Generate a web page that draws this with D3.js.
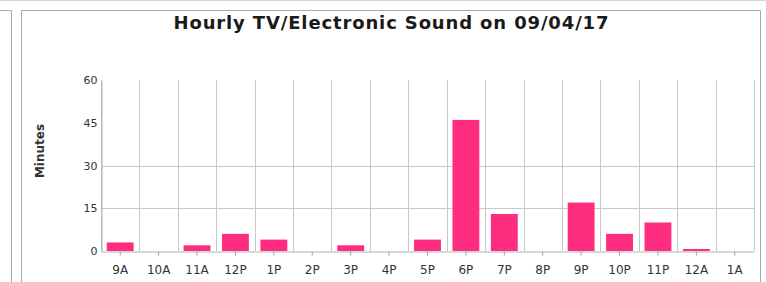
<!DOCTYPE html>
<html>
<head>
<meta charset="utf-8">
<script src="https://cdn.jsdelivr.net/npm/d3@7"></script>
<style>
  body { margin: 0; background: #fff; }
</style>
</head>
<body>
<svg id="chart" width="766" height="282"></svg>
<script>
const hours = ["9A", "10A", "11A", "12P", "1P", "2P", "3P", "4P", "5P", "6P", "7P", "8P", "9P", "10P", "11P", "12A", "1A"];
const minutes = [3, 0, 2, 6, 4, 0, 2, 0, 4, 46, 13, 0, 17, 6, 10, 0.7, 0];
const yTicks = [0, 15, 30, 45, 60];
const gridTicks = [15, 30];
const titleText = "Hourly TV/Electronic Sound on 09/04/17";
const yTitle = "Minutes";

const font = "DejaVu Sans";
const svg = d3.select("#chart");
const W = 766, H = 282;
const plotL = 101, plotR = 754, plotT = 80, plotB = 251;

// frames round the panels
svg.append("line").attr("x1", 0).attr("x2", W).attr("y1", 0.5).attr("y2", 0.5)
    .attr("stroke", "#d4d4d4");
svg.append("path").attr("d", `M0,10.5H11.5V${H}`)
    .attr("fill", "none").attr("stroke", "#a8a8a8");
svg.append("path").attr("d", `M21.5,${H}V10.5H760.5V${H}`)
    .attr("fill", "none").attr("stroke", "#a8a8a8");

const x = d3.scaleBand().domain(hours).range([plotL, plotR]).paddingInner(0.3).paddingOuter(0.15);
const xGrid = d3.scaleBand().domain(hours).range([plotL, plotR]);
const y = d3.scaleLinear().domain([0, 60]).range([plotB, plotT]);

// vertical gridlines at category edges
const g = svg.append("g");
g.selectAll("line.v")
    .data(hours.concat(["end"]))
    .join("line")
    .attr("x1", (d, i) => Math.round(plotL + i * xGrid.step()) + 0.5)
    .attr("x2", (d, i) => Math.round(plotL + i * xGrid.step()) + 0.5)
    .attr("y1", plotT).attr("y2", plotB)
    .attr("stroke", "#c8c8c8");

g.selectAll("line.h")
    .data(gridTicks)
    .join("line")
    .attr("x1", plotL).attr("x2", plotR)
    .attr("y1", d => Math.round(y(d)) + 0.5)
    .attr("y2", d => Math.round(y(d)) + 0.5)
    .attr("stroke", "#c8c8c8");

// bars
svg.append("g").selectAll("rect")
    .data(minutes)
    .join("rect")
    .attr("x", (d, i) => x(hours[i]))
    .attr("width", x.bandwidth())
    .attr("y", d => y(d))
    .attr("height", d => y(0) - y(d))
    .attr("fill", "#ff2d80");

// x axis
const xAxis = svg.append("g")
    .attr("transform", `translate(0,${plotB + 0.5})`)
    .call(d3.axisBottom(xGrid).tickSize(4).tickSizeOuter(0))
    .attr("font-family", font);
xAxis.select(".domain").attr("stroke", "#b0b0b0");
xAxis.selectAll(".tick line").attr("stroke", "#a0a0a0");
xAxis.selectAll(".tick text")
    .attr("font-size", 12).attr("fill", "#333")
    .attr("y", 22).attr("dy", 0);

// y axis
const yAxis = svg.append("g")
    .attr("transform", `translate(${plotL + 0.5},0)`)
    .call(d3.axisLeft(y).tickValues(yTicks).tickSize(0).tickPadding(4))
    .attr("font-family", font);
yAxis.select(".domain").attr("stroke", "#b0b0b0");
yAxis.selectAll(".tick text").attr("font-size", 11).attr("fill", "#333");

// titles
svg.append("text")
    .attr("x", 391).attr("y", 29)
    .attr("text-anchor", "middle")
    .attr("font-family", font)
    .attr("font-size", 18).attr("font-weight", "bold").attr("fill", "#1a1a1a")
    .attr("textLength", 435).attr("lengthAdjust", "spacing")
    .text(titleText);

svg.append("text")
    .attr("transform", "translate(44,151) rotate(-90)")
    .attr("text-anchor", "middle")
    .attr("font-family", font)
    .attr("font-size", 12).attr("font-weight", "bold").attr("fill", "#333")
    .text(yTitle);
</script>
</body>
</html>
